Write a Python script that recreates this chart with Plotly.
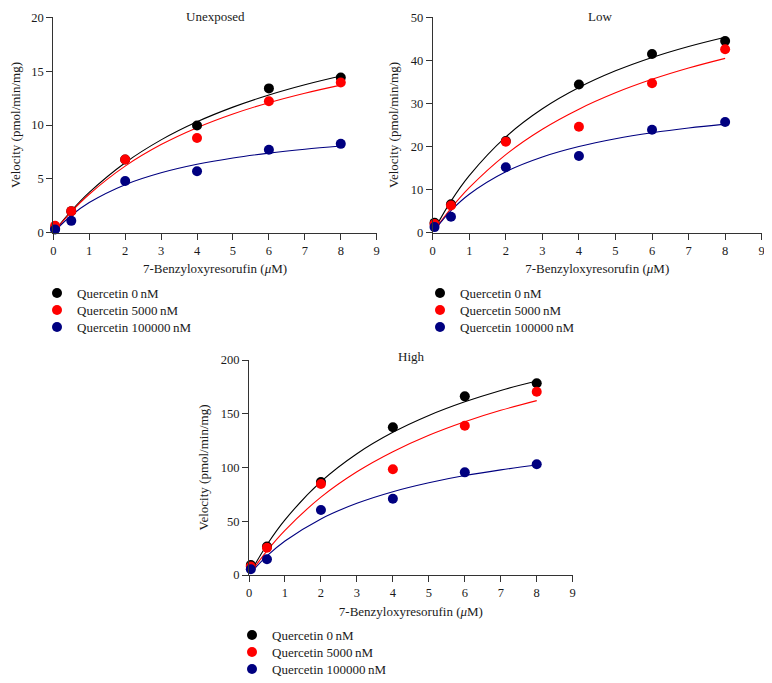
import plotly.graph_objects as go

# ---------------- data ----------------
substrate_uM = [0.05, 0.5, 2, 4, 6, 8]
series_names = ["Quercetin 0\u2009nM", "Quercetin 5000\u2009nM", "Quercetin 100000\u2009nM"]

unexposed_0 = [0.4, 2.0, 6.8, 9.95, 13.4, 14.4]
unexposed_5000 = [0.65, 2.0, 6.8, 8.8, 12.2, 13.95]
unexposed_100000 = [0.3, 1.1, 4.8, 5.7, 7.7, 8.25]

low_0 = [2.3, 6.6, 21.3, 34.4, 41.5, 44.5]
low_5000 = [2.0, 6.3, 21.1, 24.6, 34.7, 42.6]
low_100000 = [1.3, 3.7, 15.2, 17.8, 23.9, 25.7]

high_0 = [9.3, 26.4, 86.5, 137.5, 166.2, 178.3]
high_5000 = [7.8, 25.4, 84.7, 98.3, 138.9, 170.5]
high_100000 = [5.3, 14.6, 60.5, 71.0, 95.5, 103.0]

# fitted curves
fit_x = [0.05, 0.5, 1, 2, 3, 4, 5, 6, 7, 8]
unexposed_fit_0 = [0.22, 2.02, 3.74, 6.50, 8.62, 10.30, 11.66, 12.79, 13.74, 14.55]
unexposed_fit_5000 = [0.21, 1.94, 3.57, 6.18, 8.18, 9.75, 11.02, 12.07, 12.95, 13.70]
unexposed_fit_100000 = [0.19, 1.60, 2.80, 4.46, 5.56, 6.35, 6.94, 7.39, 7.75, 8.05]

low_fit_0 = [0.81, 7.32, 13.24, 22.24, 28.76, 33.70, 37.57, 40.68, 43.24, 45.39]
low_fit_5000 = [0.61, 5.65, 10.44, 18.13, 24.02, 28.68, 32.47, 35.60, 38.23, 40.47]
low_fit_100000 = [0.60, 5.14, 8.94, 14.16, 17.58, 20.00, 21.80, 23.19, 24.30, 25.20]

high_fit_0 = [3.1, 28.2, 51.3, 86.8, 112.8, 132.7, 148.4, 161.1, 171.7, 180.5]
high_fit_5000 = [2.4, 22.5, 41.6, 72.4, 96.0, 114.7, 130.0, 142.6, 153.2, 162.2]
high_fit_100000 = [2.0, 17.7, 31.6, 52.2, 66.7, 77.5, 85.8, 92.5, 97.8, 102.3]

panel_titles = ["Unexposed", "Low", "High"]
y_ranges = [[0, 20], [0, 50], [0, 200]]
y_dticks = [5, 10, 50]
x_tick_vals = list(range(0, 10))

# ---------------- style ----------------
OFF = 8                      # the page body margin shifts the figure by 8 px
W, H = 772 - OFF, 683 - OFF
colors = ["#000000", "#ff0000", "#000080"]
FONT = "Liberation Serif, Times New Roman, serif"
TXT = "#1a1a1a"


def px(xp):
    return (xp - OFF) / W


def py(yp):
    return 1 - (yp - OFF) / H


# pixel boxes (window coords) of each plot area: (left, right, top, bottom)
boxes = [(53.3, 376.7, 17.3, 232.7), (432.7, 761.7, 17.3, 232.7), (249.0, 572.7, 360.0, 575.0)]
legend_marker_x = [57, 440, 252]          # px, marker centre of legend rows
legend_row_y = [[293, 310, 327], [293, 310, 327], [635, 652, 669]]
title_pos = [(215, 8, "top"), (600, 8, "top"), (411, 356, "middle")]

panels = [
    ([unexposed_0, unexposed_5000, unexposed_100000],
     [unexposed_fit_0, unexposed_fit_5000, unexposed_fit_100000]),
    ([low_0, low_5000, low_100000], [low_fit_0, low_fit_5000, low_fit_100000]),
    ([high_0, high_5000, high_100000], [high_fit_0, high_fit_5000, high_fit_100000]),
]

fig = go.Figure()
layout = dict(
    width=W, height=H,
    margin=dict(l=0, r=0, t=0, b=0, autoexpand=False),
    paper_bgcolor="white", plot_bgcolor="white",
    font=dict(family=FONT, size=13, color=TXT),
    annotations=[],
)

leg_idx = 0
for i, (pts, fits) in enumerate(panels):
    n = "" if i == 0 else str(i + 1)
    xa, ya = "x" + n, "y" + n
    for j in range(3):
        fig.add_trace(go.Scatter(
            x=fit_x, y=fits[j], mode="lines", line=dict(color=colors[j], width=1.1, shape="spline"),
            xaxis=xa, yaxis=ya, showlegend=False, hoverinfo="skip"))
    for j in range(3):
        leg_idx += 1
        leg = "legend" if leg_idx == 1 else "legend" + str(leg_idx)
        fig.add_trace(go.Scatter(
            x=substrate_uM, y=pts[j], mode="markers", name=series_names[j],
            marker=dict(color=colors[j], size=10, line=dict(width=0)),
            xaxis=xa, yaxis=ya, legend=leg, cliponaxis=False))
        layout[leg] = dict(x=px(legend_marker_x[i] - 20), y=py(legend_row_y[i][j]),
                           xanchor="left", yanchor="middle", borderwidth=0,
                           bgcolor="rgba(0,0,0,0)", font=dict(family=FONT, size=13, color=TXT),
                           itemwidth=30)
    l, r, t, b = boxes[i]
    axis_common = dict(showline=True, linecolor="#333333", linewidth=1, ticks="outside",
                       ticklen=6, tickwidth=1, tickcolor="#333333", showgrid=False,
                       zeroline=False, automargin=False,
                       tickfont=dict(family=FONT, size=12.5, color=TXT))
    layout["xaxis" + n] = dict(
        domain=[px(l), px(r)], range=[0, 9], tickvals=x_tick_vals, anchor=ya,
        title=dict(text="7-Benzyloxyresorufin (<i>\u03bc</i>M)", standoff=7,
                   font=dict(family=FONT, size=13, color=TXT)),
        **axis_common)
    layout["yaxis" + n] = dict(
        domain=[py(b), py(t)], range=y_ranges[i], dtick=y_dticks[i], anchor=xa,
        title=dict(text="Velocity (pmol/min/mg)", standoff=9,
                   font=dict(family=FONT, size=13, color=TXT)),
        **axis_common)
    tx, ty, anc = title_pos[i]
    layout["annotations"].append(dict(
        text=panel_titles[i], x=px(tx), y=py(ty), xref="paper", yref="paper",
        showarrow=False, xanchor="center", yanchor=anc, borderpad=0,
        font=dict(family=FONT, size=13, color=TXT)))

fig.update_layout(**layout)
fig.write_html("out.html")
